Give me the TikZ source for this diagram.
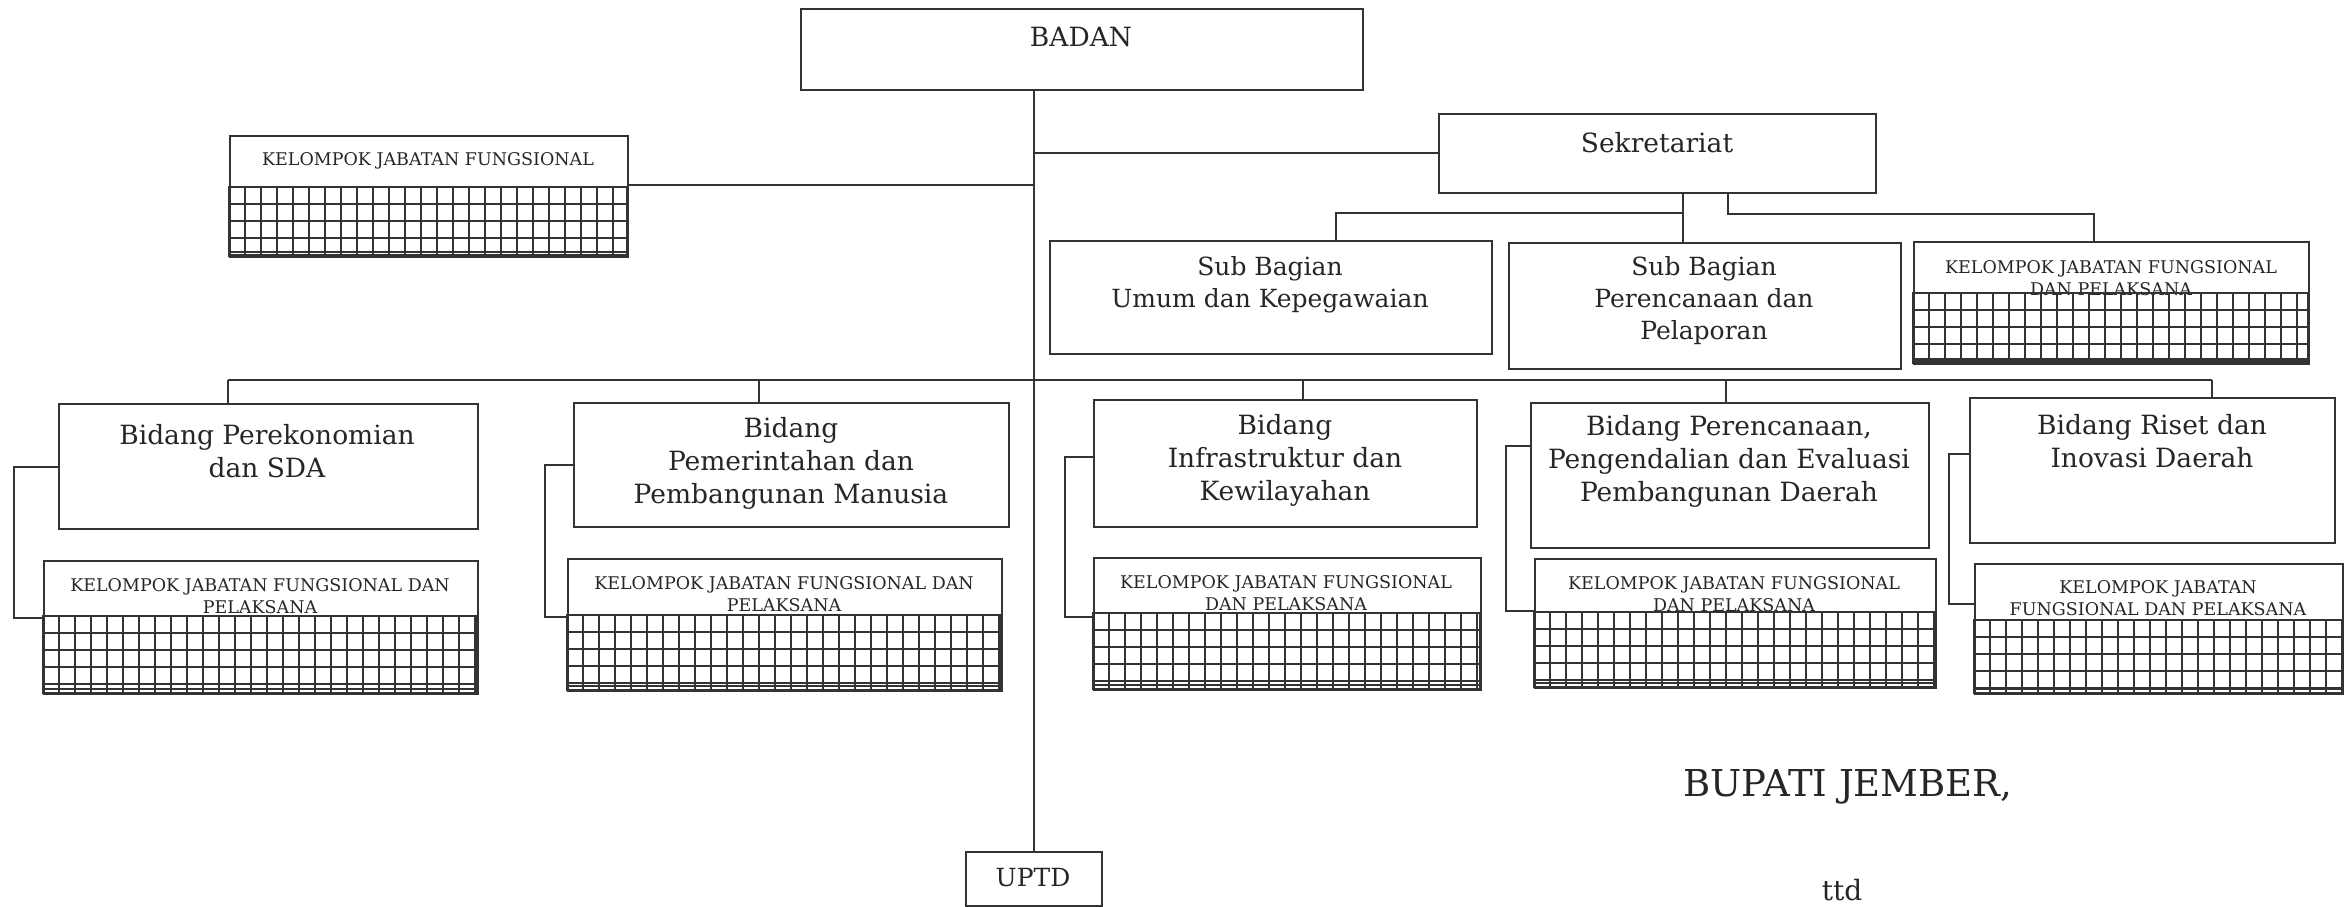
\documentclass[tikz,border=0pt]{standalone}
\usepackage{fontspec}
\setmainfont{DejaVu Serif}
\tikzset{
  box/.style={rectangle, draw=black!80, line width=1.8pt, inner sep=0pt, anchor=north west},
  conn/.style={draw=black!80, line width=1.6pt},
  gridline/.style={draw=black!80, line width=1.4pt},
  txt/.style={align=center, inner sep=0pt, text=black!85},
  bigtext/.style={txt, font=\fontsize{26.5}{33}\selectfont},
  subtext/.style={txt, font=\fontsize{25}{32}\selectfont},
  smalltext/.style={txt, font=\fontsize{17.5}{22}\selectfont},
}
\begin{document}
\begin{tikzpicture}[x=1pt, y=-1pt]
\useasboundingbox (0,0) rectangle (2351,907);
\fill[white] (0,0) rectangle (2351,907);

% top
\node[box, minimum width=562pt, minimum height=81pt] (badan) at (800,8) {};
\node[bigtext] (badant) at (1081,37) {BADAN};
\node[box, minimum width=136pt, minimum height=54pt] (uptd) at (965,851) {};
\node[txt, font=\fontsize{25}{30}\selectfont] (uptdt) at (1033,878) {UPTD};

% kelompok jabatan fungsional (badan)
\node[box, minimum width=398pt, minimum height=121pt] (kjf0) at (229,135) {};
\node[smalltext] (kjf0t) at (428,161) {KELOMPOK JABATAN FUNGSIONAL};

% sekretariat
\node[box, minimum width=437pt, minimum height=79pt] (sekr) at (1438,113) {};
\node[bigtext] (sekrt) at (1657,143) {Sekretariat};
\node[box, minimum width=442pt, minimum height=113pt] (sbu) at (1049,240) {};
\node[subtext] (sbut) at (1270,285) {Sub Bagian\\Umum dan Kepegawaian};
\node[box, minimum width=392pt, minimum height=126pt] (sbp) at (1508,242) {};
\node[subtext] (sbpt) at (1704,301) {Sub Bagian\\Perencanaan dan\\Pelaporan};
\node[box, minimum width=395pt, minimum height=122pt] (kjfs) at (1913,241) {};
\node[smalltext] (kjfst) at (2111,278) {KELOMPOK JABATAN FUNGSIONAL\\DAN PELAKSANA};

% bidang
\node[box, minimum width=419pt, minimum height=125pt] (bid1) at (58,403) {};
\node[bigtext] (bid1t) at (267,451) {Bidang Perekonomian\\dan SDA};
\node[box, minimum width=435pt, minimum height=124pt] (bid2) at (573,402) {};
\node[bigtext] (bid2t) at (791,463) {Bidang\\Pemerintahan dan\\Pembangunan Manusia};
\node[box, minimum width=383pt, minimum height=127pt] (bid3) at (1093,399) {};
\node[bigtext] (bid3t) at (1285,460) {Bidang\\Infrastruktur dan\\Kewilayahan};
\node[box, minimum width=398pt, minimum height=145pt] (bid4) at (1530,402) {};
\node[bigtext] (bid4t) at (1729,461) {Bidang Perencanaan,\\Pengendalian dan Evaluasi\\Pembangunan Daerah};
\node[box, minimum width=365pt, minimum height=145pt] (bid5) at (1969,397) {};
\node[bigtext] (bid5t) at (2152,441) {Bidang Riset dan\\Inovasi Daerah};

% kelompok jabatan fungsional dan pelaksana
\node[box, minimum width=434pt, minimum height=133pt] (kjf1) at (43,560) {};
\node[smalltext] (kjf1t) at (260,596) {KELOMPOK JABATAN FUNGSIONAL DAN\\PELAKSANA};
\node[box, minimum width=434pt, minimum height=132pt] (kjf2) at (567,558) {};
\node[smalltext] (kjf2t) at (784,594) {KELOMPOK JABATAN FUNGSIONAL DAN\\PELAKSANA};
\node[box, minimum width=387pt, minimum height=132pt] (kjf3) at (1093,557) {};
\node[smalltext] (kjf3t) at (1286,593) {KELOMPOK JABATAN FUNGSIONAL\\DAN PELAKSANA};
\node[box, minimum width=401pt, minimum height=129pt] (kjf4) at (1534,558) {};
\node[smalltext] (kjf4t) at (1734,594) {KELOMPOK JABATAN FUNGSIONAL\\DAN PELAKSANA};
\node[box, minimum width=368pt, minimum height=130pt] (kjf5) at (1974,563) {};
\node[smalltext] (kjf5t) at (2158,598) {KELOMPOK JABATAN\\FUNGSIONAL DAN PELAKSANA};

% grids
\foreach \xa/\yd/\xb/\yb in {229/187/627/256, 1913/293/2308/363, 43/616/477/693,
    567/615/1001/690, 1093/613/1480/689, 1534/612/1935/687, 1974/620/2342/693} {
  \begin{scope}
    \clip (\xa,\yd) rectangle (\xb,\yb);
    \foreach \k in {0,...,27} \draw[gridline] ({\xa+16*\k},\yd) -- ++(0,100);
    \foreach \k in {0,...,5} \draw[gridline] (\xa,{\yd+17*\k}) -- ++(450,0);
    \draw[gridline] (\xa,\yb-4) -- (\xb,\yb-4);
  \end{scope}
  \draw[box] (\xa,\yd) rectangle (\xb,\yb);
}

% connectors
\draw[conn] (uptd.north |- badan.south) -- (uptd.north);
\draw[conn] (kjf0.east |- 0,185) -- (uptd.north |- 0,185);
\draw[conn] (sekr.west |- 0,153) -- (uptd.north |- 0,153);
\coordinate (jl) at (1336,213);
\coordinate (jm) at (1683,213);
\coordinate (jr) at (1728,214);
\coordinate (jk) at (2094,214);
\draw[conn] (jm |- sekr.south) -- (jm |- sbp.north);
\draw[conn] (jm) -| (jl |- sbu.north);
\draw[conn] (jr |- sekr.south) |- (jk) -- (jk |- kjfs.north);
\draw[conn] (228,380) -- (2212,380);
\foreach \n/\dx in {bid1/228, bid2/759, bid3/1303, bid4/1726, bid5/2212}
  \draw[conn] (\dx,380) -- (\dx,0 |- \n.north);
\foreach \n/\bx/\ya/\yb in {1/14/467/618, 2/545/465/617, 3/1065/457/617, 4/1506/446/611, 5/1949/454/604}
  \draw[conn] (bid\n.west |- 0,\ya) -| (\bx,\yb) -- (kjf\n.west |- 0,\yb);

% tanda tangan
\node[txt, font=\fontsize{37}{44}\selectfont] (bupati) at (1848,787) {BUPATI JEMBER,};
\node[txt, font=\fontsize{28}{32}\selectfont] (ttd) at (1842,890) {ttd};
\end{tikzpicture}
\end{document}
